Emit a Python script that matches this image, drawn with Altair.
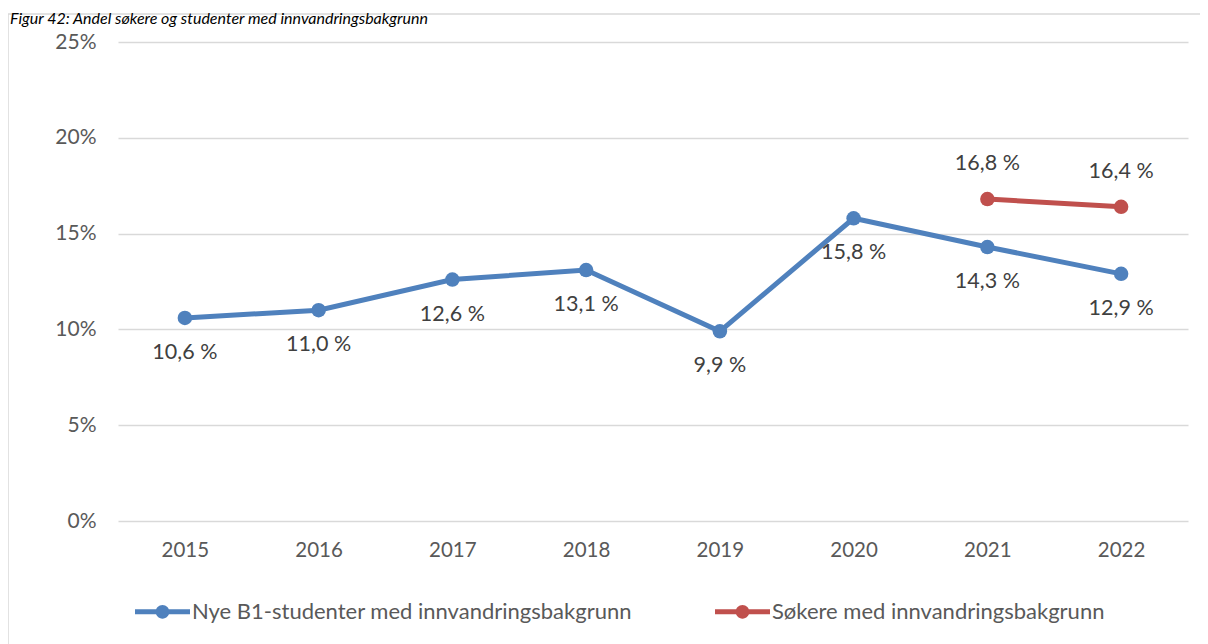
import altair as alt
import pandas as pd

years = ["2015", "2016", "2017", "2018", "2019", "2020", "2021", "2022"]
b1_values = [10.6, 11.0, 12.6, 13.1, 9.9, 15.8, 14.3, 12.9]
soker_years = ["2021", "2022"]
soker_values = [16.8, 16.4]
series_b1 = "Nye B1-studenter med innvandringsbakgrunn"
series_soker = "Søkere med innvandringsbakgrunn"
y_ticks = [0, 0.05, 0.10, 0.15, 0.20, 0.25]
title_text = "Figur 42: Andel søkere og studenter med innvandringsbakgrunn"

def fmt(v):
    return f"{v:.1f}".replace(".", ",") + " %"

rows = []
for y, v in zip(years, b1_values):
    rows.append({"year": y, "value": v / 100, "series": series_b1, "label": fmt(v)})
for y, v in zip(soker_years, soker_values):
    rows.append({"year": y, "value": v / 100, "series": series_soker, "label": fmt(v)})
df = pd.DataFrame(rows)

FONT = "Lato"
W, H = 1070, 479

color_scale = alt.Scale(domain=[series_b1, series_soker], range=["#4F81BD", "#C0504D"])
x_enc = alt.X("year:N", scale=alt.Scale(type="point", padding=0.5),
              axis=alt.Axis(title=None, labelAngle=0, domain=False, ticks=False, grid=False,
                            labelFont=FONT, labelFontSize=20.5, labelColor="#595959", labelPadding=19))
y_enc = alt.Y("value:Q", scale=alt.Scale(domain=[0, 0.25], nice=False),
              axis=alt.Axis(title=None, values=y_ticks, format=".0%", domain=False, ticks=False,
                            grid=True, gridColor="#d9d9d9", gridWidth=1.3,
                            labelFont=FONT, labelFontSize=21, labelColor="#595959", labelPadding=22))

legend_path = ("M -1 -0.09 L 1 -0.09 L 1 0.09 L -1 0.09 Z "
               "M -0.25 0 A 0.25 0.25 0 1 1 0.25 0 A 0.25 0.25 0 1 1 -0.25 0 Z")

legend = alt.Legend(title=None, orient="none", direction="horizontal",
                    legendX=17, legendY=542,
                    symbolType=legend_path, symbolSize=3025,
                    symbolStrokeWidth=0, symbolOpacity=1,
                    labelFont=FONT, labelFontSize=22, labelColor="#595959",
                    labelOffset=2, columnPadding=83, labelLimit=600)
color_enc = alt.Color("series:N", scale=color_scale, legend=legend)

base = alt.Chart(df)

lines = base.mark_line(strokeWidth=5).encode(
    x=x_enc, y=y_enc, color=color_enc,
)

points = base.mark_point(filled=True, size=210, opacity=1).encode(
    x=x_enc, y=y_enc, color=color_enc,
)

labels_b1 = alt.Chart(df[df.series == series_b1]).mark_text(
    font=FONT, fontSize=21.5, color="#404040", dy=35).encode(
    x=x_enc, y=y_enc, text="label:N")
labels_sk = alt.Chart(df[df.series == series_soker]).mark_text(
    font=FONT, fontSize=21.5, color="#404040", dy=-35).encode(
    x=x_enc, y=y_enc, text="label:N")

border = alt.Chart(pd.DataFrame({"a": [0]})).mark_rect(
    fill=None, stroke="#d9d9d9", strokeWidth=1.5).encode(
    x=alt.value(-110), x2=alt.value(W + 40), y=alt.value(-28), y2=alt.value(H + 200))

title = alt.Chart(pd.DataFrame({"t": [title_text]})).mark_text(
    font=FONT, fontSize=16, fontStyle="italic", color="#000000", align="left",
    baseline="top").encode(x=alt.value(-108), y=alt.value(-31.5), text="t:N")

chart = alt.layer(border, lines, points, labels_b1, labels_sk, title).properties(
    width=W, height=H,
    padding={"left": 110, "top": 34, "right": 12, "bottom": 123},
    autosize=alt.AutoSizeParams(type="none"),
    background="white",
).configure_view(strokeWidth=0, stroke="transparent")

chart.save("out.html", embed_options={"renderer": "svg", "actions": False})
